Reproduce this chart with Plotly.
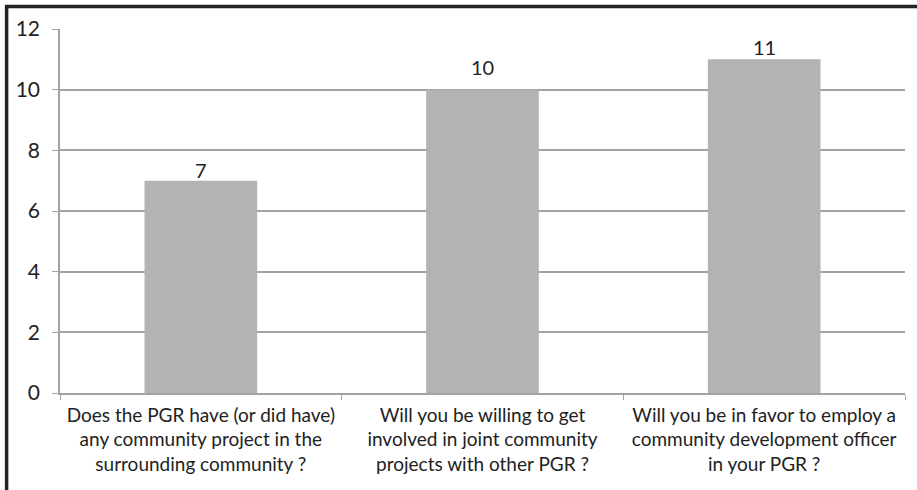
import plotly.graph_objects as go

# Survey questions (category labels) and number of "yes" responses
questions = [
    "Does the PGR have (or did have)<br>any community project in the<br>surrounding community ?",
    "Will you be willing to get<br>involved in joint community<br>projects with other PGR ?",
    "Will you be in favor to employ a<br>community development officer<br>in your PGR ?",
]
counts = [7, 10, 11]
y_ticks = [0, 2, 4, 6, 8, 10, 12]

# Vertical nudge (px) of each value label above its bar
label_shift_px = [-3, 9, -2]

W, H = 917, 490
ML, MR, MT, MB = 60, 12, 29, 97

FAMILY = "Lato, 'Open Sans', sans-serif"
TXT = "#222222"
CAT_FONT = dict(family=FAMILY, size=19, color=TXT)
NUM_FONT = dict(family=FAMILY, size=20, color=TXT)
TICK_FONT = dict(family=FAMILY, size=21, color=TXT)
GRID = "#a3a3a3"

fig = go.Figure(
    go.Bar(
        x=questions,
        y=counts,
        marker=dict(color="#b3b3b3", line=dict(width=0)),
        width=0.4,
        hoverinfo="x+y",
    )
)

# Value labels sitting on top of each bar
for q, c, dy in zip(questions, counts, label_shift_px):
    fig.add_annotation(
        x=q, y=c, text=str(c),
        xref="x", yref="y",
        showarrow=False,
        yanchor="bottom",
        yshift=dy,
        font=NUM_FONT,
    )

fig.update_layout(
    width=W,
    height=H,
    margin=dict(l=ML, r=MR, t=MT, b=MB),
    paper_bgcolor="white",
    plot_bgcolor="white",
    font=CAT_FONT,
    showlegend=False,
    bargap=0.6,
)

fig.update_yaxes(
    range=[0, 12],
    tickvals=y_ticks,
    tickfont=TICK_FONT,
    showgrid=True,
    gridcolor=GRID,
    gridwidth=1.5,
    showline=True,
    linecolor=GRID,
    linewidth=1.5,
    ticks="outside",
    ticklen=6,
    tickcolor=GRID,
    ticklabelstandoff=8,
    zeroline=False,
)

fig.update_xaxes(
    tickfont=CAT_FONT,
    showline=True,
    linecolor=GRID,
    linewidth=1.5,
    ticks="outside",
    tickson="boundaries",
    ticklen=5,
    tickcolor=GRID,
    ticklabelstandoff=4,
    showgrid=False,
)

# Outer frame (top and left edges visible in the window)
pw = W - ML - MR
ph = H - MT - MB
def px_x(x):
    return (x - ML) / pw
def px_y(y):
    return 1 - (y - MT) / ph

fig.add_shape(
    type="rect",
    xref="paper", yref="paper",
    x0=px_x(6.6), x1=px_x(W + 20),
    y0=px_y(H + 20), y1=px_y(6.6),
    line=dict(color="#222222", width=3.5),
    fillcolor="rgba(0,0,0,0)",
    layer="above",
)

fig.write_html("out.html")
